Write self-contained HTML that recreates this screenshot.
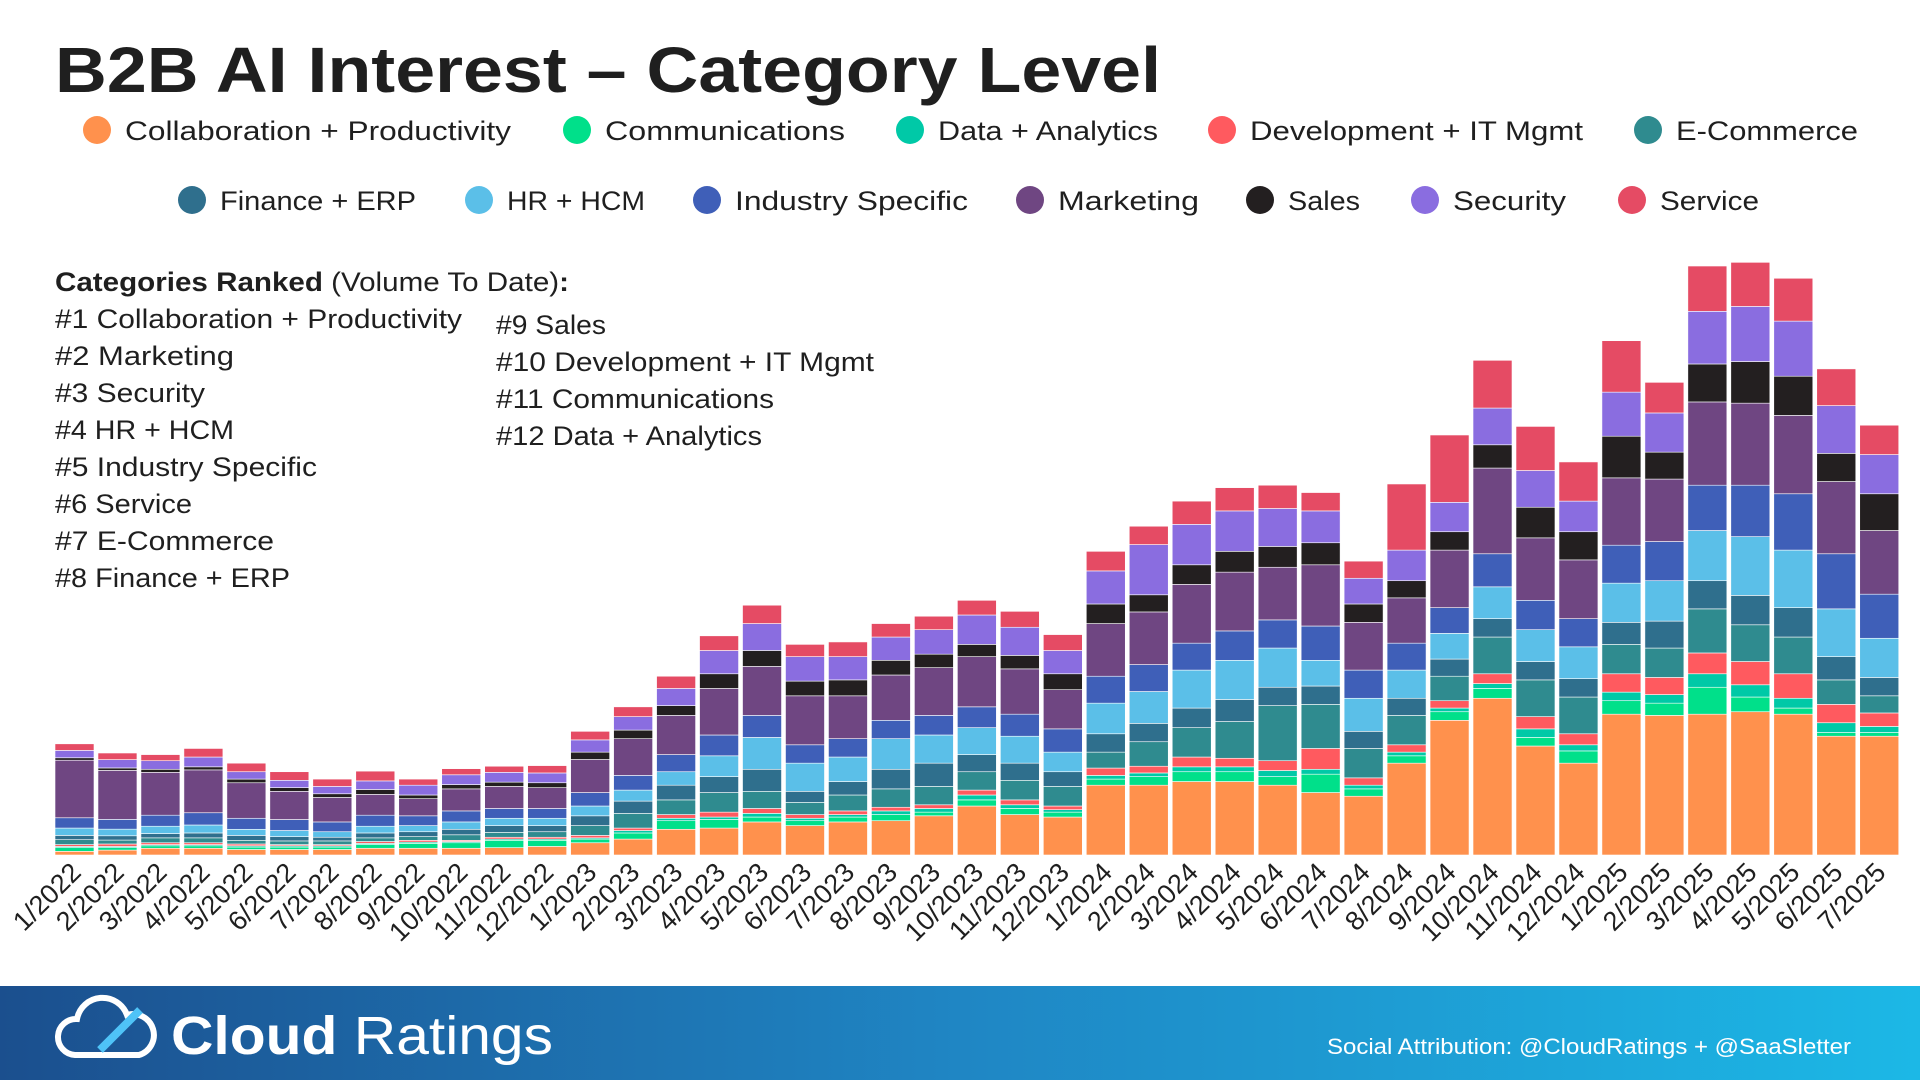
<!DOCTYPE html>
<html><head><meta charset="utf-8"><style>
html,body{margin:0;padding:0;background:#fff;}
svg{display:block;font-family:"Liberation Sans",sans-serif;}
</style></head><body>
<svg id="chart" width="1920" height="1080" viewBox="0 0 1920 1080">
<defs>
<linearGradient id="foot" x1="0" x2="1" y1="0" y2="0"><stop offset="0" stop-color="#1b4f8e"/><stop offset="0.5" stop-color="#1f86c4"/><stop offset="1" stop-color="#1cb8e6"/></linearGradient>
</defs>
<text x="55" y="92" font-size="64" font-weight="bold" fill="#1f1f1f" textLength="1106" lengthAdjust="spacingAndGlyphs">B2B AI Interest – Category Level</text>
<g id="legend"></g>
<g font-size="27" fill="#1f1f1f">
<text x="55" y="291" textLength="514" lengthAdjust="spacingAndGlyphs"><tspan font-weight="bold">Categories Ranked</tspan> (Volume To Date)<tspan font-weight="bold">:</tspan></text>
<text x="55" y="328" textLength="407" lengthAdjust="spacingAndGlyphs">#1 Collaboration + Productivity</text>
<text x="55" y="365" textLength="179" lengthAdjust="spacingAndGlyphs">#2 Marketing</text>
<text x="55" y="402" textLength="150" lengthAdjust="spacingAndGlyphs">#3 Security</text>
<text x="55" y="439" textLength="179" lengthAdjust="spacingAndGlyphs">#4 HR + HCM</text>
<text x="55" y="476" textLength="262" lengthAdjust="spacingAndGlyphs">#5 Industry Specific</text>
<text x="55" y="513" textLength="137" lengthAdjust="spacingAndGlyphs">#6 Service</text>
<text x="55" y="550" textLength="219" lengthAdjust="spacingAndGlyphs">#7 E-Commerce</text>
<text x="55" y="587" textLength="235" lengthAdjust="spacingAndGlyphs">#8 Finance + ERP</text>
<text x="496" y="334" textLength="110" lengthAdjust="spacingAndGlyphs">#9 Sales</text>
<text x="496" y="371" textLength="378" lengthAdjust="spacingAndGlyphs">#10 Development + IT Mgmt</text>
<text x="496" y="408" textLength="278" lengthAdjust="spacingAndGlyphs">#11 Communications</text>
<text x="496" y="445" textLength="266" lengthAdjust="spacingAndGlyphs">#12 Data + Analytics</text>
</g>
<g id="bars"></g>
<g id="xlabels"></g>
<g>
<rect x="0" y="986" width="1920" height="94" fill="url(#foot)"/>
<g fill="none" stroke="#fff" stroke-width="6">
<path d="M75 1055 a18 18 0 0 1 2-36 a26 26 0 0 1 50-4 a20 20 0 0 1 12 40 z"/>
<path d="M100 1050 L140 1010" stroke="#4fc3f7" stroke-width="8"/>
</g>
<text x="171" y="1054" font-size="54" fill="#fff" textLength="382" lengthAdjust="spacingAndGlyphs"><tspan font-weight="bold">Cloud</tspan> Ratings</text>
<text x="1327" y="1054" font-size="22" fill="#fff" textLength="524" lengthAdjust="spacingAndGlyphs">Social Attribution: @CloudRatings + @SaaSletter</text>
</g>
</svg>
<script>
const months = ["1/2022","2/2022","3/2022","4/2022","5/2022","6/2022","7/2022","8/2022","9/2022","10/2022","11/2022","12/2022","1/2023","2/2023","3/2023","4/2023","5/2023","6/2023","7/2023","8/2023","9/2023","10/2023","11/2023","12/2023","1/2024","2/2024","3/2024","4/2024","5/2024","6/2024","7/2024","8/2024","9/2024","10/2024","11/2024","12/2024","1/2025","2/2025","3/2025","4/2025","5/2025","6/2025","7/2025"];
const categories = ["Collaboration + Productivity","Communications","Data + Analytics","Development + IT Mgmt","E-Commerce","Finance + ERP","HR + HCM","Industry Specific","Marketing","Sales","Security","Service"];
const collab = [3,4,5.5,5.5,4.5,4.5,4.5,5.5,5.5,5.5,6,7,10,13,21,22,27,24,27,28,32,40,33,31,57,57,60,60,57,51,48,75,110,128,89,75,115,114,115,117,115,97,97];
const comms = [3,2,2,2,2,2,2,3,4,4.5,6,5,3,5,7,7,4,4,4,5,3,5,5,4,5,7,8,8,7,15,6,6,7,8,7,10,11,10,22,12,5,3,3];
const data = [1,1,1,1,1,1,1,1,1,1,1,1,1,2,2,2,3,2,2,3,3,4,3,2,3,3,4,4,5,4,3,3,3,4,7,5,7,7,11,10,8,8,5];
const dev = [1.5,2,1.5,1.5,1.5,1,1,1.5,1.5,1,1.5,1.5,2,2,3,4,4,3,3,3,3,4,4,3,6,5.5,8,7,8,17,6,6,6,8,10,9,15,14,17,19,20,15,11];
const ecom = [4,3.2,4,4,3,3,3,3,3,4.5,4,4.5,8,12,12,16,14,10,13,15,15,15,16,16,13,20,24,30,45,36,24,24,20,30,30,30,24,24,36,30,30,20,14];
const fin = [3.5,3.5,3.5,4,4,3.5,3,4,4,4.5,5.5,5,8,10,12,13,18,9,11,16,19,14,14,12,15,15,16,18,15,15,14,14,14,15,15,15,18,22,23,24,24,19,15];
const hr = [6,5.4,6,6.5,5,5,4.5,5.5,5,6,6,6,8,9,11,17,26,23,20,25,23,22,22,16,25,26,31,32,32,21,27,23,21,26,26,26,32,33,41,48,47,39,32];
const industry = [8.4,8,9,10,9,9,8,9,8,9,8,8,11,12,14,17,18,15,15,15,16,17,18,19,22,22,22,24,23,28,23,22,21,27,24,23,31,32,37,42,46,45,36];
const marketing = [47,40,35,35,29,23,20,17,14,18,18,17,27,30,32,38,40,40,35,37,39,41,37,32,43,43,48,48,43,50,39,37,47,70,51,48,55,51,68,67,64,59,52];
const sales = [2,2,2.5,2.5,3,3,3,4,3,3.5,3.5,4,6,7,8,12,13,12,13,12,11,10,11,13,16,14,16,17,17,18,15,14,15,19,25,23,34,22,31,34,32,23,30];
const security = [6,6.8,7,8,6,6,6,7,8,8,8,8,10,11,14,19,22,20,19,19,20,24,23,19,27,41,33,33,31,26,21,25,24,30,30,25,36,32,43,45,45,39,32];
const service = [5.4,5.4,5,7,7,7,6,8,5,5,5,6,7,8,10,12,15,10,12,11,11,12,13,13,16,15,19,19,19,15,14,54,55,39,36,32,42,25,37,36,35,30,24];
const seriesList = [collab,comms,data,dev,ecom,fin,hr,industry,marketing,sales,security,service];
const colors = ["#ff914d","#00e08a","#00c9a7","#ff5a5f","#2f8b8f","#2f6f8d","#5bbfe8","#3f5fb8","#6f4682","#231f20","#8a6de0","#e54b64"];
const NS="http://www.w3.org/2000/svg";
const baseY=855, unit=1.2245, x0=55, pitch=42.97, bw=39;
function xPos(i){return x0+i*pitch;}
function yPos(v){return baseY-v*unit;}
const barsG=document.getElementById('bars');
months.forEach((m,i)=>{
  let cum=0;
  const g=document.createElementNS(NS,'g');
  
  
  seriesList.forEach((s,k)=>{
    const v=s[i];
    const r=document.createElementNS(NS,'rect');
    
    
    r.setAttribute('x',xPos(i));
    r.setAttribute('y',yPos(cum+v));
    r.setAttribute('width',bw);
    r.setAttribute('height',Math.max(0,yPos(cum)-yPos(cum+v)));
    r.setAttribute('fill',colors[k]);
    r.setAttribute('stroke','#fff');
    r.setAttribute('stroke-width','0.6');
    g.appendChild(r);
    cum+=v;
  });
  barsG.appendChild(g);
  const t=document.createElementNS(NS,'text');
  
  
  const cx=xPos(i)+bw/2+8, cy=874;
  t.setAttribute('x',cx);t.setAttribute('y',cy);
  t.setAttribute('text-anchor','end');
  t.setAttribute('font-size','27');
  t.setAttribute('fill','#1f1f1f');
  t.setAttribute('transform','rotate(-45 '+cx+' '+cy+')');
  t.textContent=m;
  document.getElementById('xlabels').appendChild(t);
});
const legendPos=[[97,130],[577,130],[910,130],[1222,130],[1648,130],[192,200],[479,200],[707,200],[1030,200],[1260,200],[1425,200],[1632,200]];
const legendW=[386,240,220,333,182,196,138,233,141,72,113,99];
const legG=document.getElementById('legend');
categories.forEach((c,k)=>{
  const g=document.createElementNS(NS,'g');
  
  
  const ci=document.createElementNS(NS,'circle');
  
  
  ci.setAttribute('cx',legendPos[k][0]);ci.setAttribute('cy',legendPos[k][1]);ci.setAttribute('r',14);ci.setAttribute('fill',colors[k]);
  const t=document.createElementNS(NS,'text');
  
  
  t.setAttribute('x',legendPos[k][0]+28);t.setAttribute('y',legendPos[k][1]+10);
  t.setAttribute('font-size','27');t.setAttribute('fill','#1f1f1f');
  t.setAttribute('textLength',legendW[k]);t.setAttribute('lengthAdjust','spacingAndGlyphs');
  t.textContent=c;
  g.appendChild(ci);g.appendChild(t);legG.appendChild(g);
});
</script>
</body></html>
